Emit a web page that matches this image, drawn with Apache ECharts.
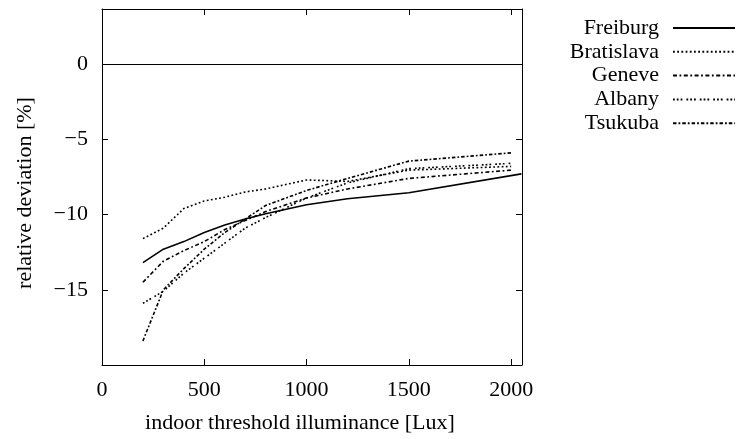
<!DOCTYPE html>
<html>
<head>
    <meta charset="utf-8">
    <title>relative deviation vs indoor threshold illuminance</title>
    <script src="https://cdn.jsdelivr.net/npm/echarts@6/dist/echarts.min.js"></script>
    <style>
        body, html { margin: 0; padding: 0; background: #fff; }
        #main { width: 736px; height: 439px; }
    </style>
</head>
<body>
    <div id="main"></div>
    <script>
        // illuminance thresholds [Lux]
        var lux = [200, 300, 400, 500, 600, 700, 800, 1000, 1200, 1500, 2000];
        var luxFreiburg = [200, 300, 400, 500, 600, 700, 800, 1000, 1200, 1500, 2050];

        // relative deviation [%]
        var freiburg   = [-13.2, -12.3, -11.8, -11.2, -10.7, -10.3, -9.95, -9.35, -8.95, -8.55, -7.3];
        var bratislava = [-11.6, -10.9, -9.6, -9.1, -8.85, -8.5, -8.3, -7.7, -7.8, -7.05, -6.8];
        var geneve     = [-14.5, -13.1, -12.4, -11.8, -11.0, -10.4, -9.8, -8.9, -8.3, -7.6, -7.05];
        var albany     = [-15.9, -15.1, -13.9, -12.9, -11.9, -10.9, -10.2, -8.9, -7.9, -6.95, -6.6];
        var tsukuba    = [-18.4, -15.0, -13.6, -12.3, -11.2, -10.3, -9.4, -8.4, -7.6, -6.45, -5.9];

        var xTicks = [0, 500, 1000, 1500, 2000];
        var yTicks = [-15, -10, -5, 0];

        function pairs(xs, ys) {
            return xs.map(function (x, i) { return [x, ys[i]]; });
        }

        var font = '"Liberation Serif", "DejaVu Serif", serif';

        var myChart = echarts.init(document.getElementById('main'));

        function lineSeries(name, xs, ys, dash, width) {
            return {
                name: name,
                type: 'line',
                data: pairs(xs, ys),
                symbol: 'none',
                showSymbol: false,
                animation: false,
                itemStyle: { color: '#000' },
                lineStyle: { color: '#000', width: width || 1.6, type: dash }
            };
        }

        var series = [
            lineSeries('Freiburg', luxFreiburg, freiburg, 'solid', 1.6),
            lineSeries('Bratislava', lux, bratislava, [1.8, 2.4]),
            lineSeries('Geneve', lux, geneve, [4, 2.5, 1.8, 2.5]),
            lineSeries('Albany', lux, albany, [1.8, 2, 1.8, 2, 1.8, 4]),
            lineSeries('Tsukuba', lux, tsukuba, [3.5, 2, 1.8, 2])
        ];
        // zero line
        series[0].markLine = {
            silent: true,
            symbol: 'none',
            label: { show: false },
            animation: false,
            lineStyle: { color: '#000', width: 1, type: 'solid' },
            data: [{ yAxis: 0 }]
        };

        var tickStyle = { inside: true, length: 6, lineStyle: { color: '#000', width: 1 } };
        var frame = { show: true, onZero: false, lineStyle: { color: '#000', width: 1 } };

        var option = {
            backgroundColor: '#fff',
            animation: false,
            textStyle: { fontFamily: font },
            grid: { left: 102, right: 214, top: 9, bottom: 73 },
            legend: {
                orient: 'vertical',
                align: 'right',
                right: 0,
                top: 17,
                padding: 0,
                itemWidth: 62,
                itemHeight: 10,
                itemGap: 1.8,
                selectedMode: false,
                itemStyle: { opacity: 0 },
                textStyle: { fontFamily: font, fontSize: 22, color: '#000', lineHeight: 22, padding: [0, 9, 0, 0] },
                data: ['Freiburg', 'Bratislava', 'Geneve', 'Albany', 'Tsukuba']
            },
            xAxis: [{
                type: 'value',
                min: 0,
                max: 2053,
                interval: 500,
                name: 'indoor threshold illuminance [Lux]',
                nameLocation: 'middle',
                nameGap: 47,
                nameMoveOverlap: false,
                nameTextStyle: { fontFamily: font, fontSize: 22, color: '#000', padding: [0, 24, 0, 0] },
                axisLine: frame,
                axisTick: tickStyle,
                splitLine: { show: false },
                axisLabel: {
                    fontFamily: font, fontSize: 22, color: '#000', margin: 14,
                    showMaxLabel: false,
                    formatter: function (v) { return xTicks.indexOf(v) >= 0 ? String(v) : ''; }
                }
            }, {
                type: 'value',
                position: 'top',
                min: 0,
                max: 2053,
                interval: 500,
                axisLine: frame,
                axisTick: tickStyle,
                splitLine: { show: false },
                axisLabel: { show: false }
            }],
            yAxis: [{
                type: 'value',
                min: -20,
                max: 3.66,
                interval: 5,
                name: 'relative deviation [%]',
                nameLocation: 'middle',
                nameGap: 66,
                nameTextStyle: { fontFamily: font, fontSize: 22, color: '#000', padding: [0, 12, 0, 0] },
                axisLine: frame,
                axisTick: tickStyle,
                splitLine: { show: false },
                axisLabel: {
                    fontFamily: font, fontSize: 22, color: '#000', margin: 14,
                    showMaxLabel: false,
                    formatter: function (v) {
                        return yTicks.indexOf(v) >= 0 ? String(v).replace('-', '\u2212') : '';
                    }
                }
            }, {
                type: 'value',
                position: 'right',
                min: -20,
                max: 3.66,
                interval: 5,
                axisLine: frame,
                axisTick: tickStyle,
                splitLine: { show: false },
                axisLabel: { show: false }
            }],
            series: series
        };

        myChart.setOption(option);

        window.addEventListener('resize', function () {
            myChart.resize();
        });
    </script>
</body>
</html>
